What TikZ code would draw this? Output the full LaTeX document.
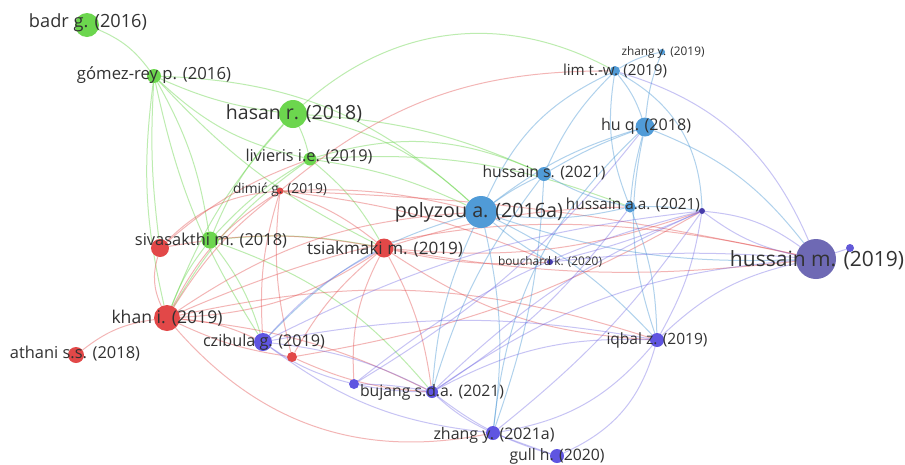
\documentclass[tikz,border=0pt]{standalone}
\usepackage{fontspec}
\setmainfont{Open Sans}
\usepackage{graphicx}
\pgfdeclarelayer{bg}
\pgfsetlayers{bg,main}
\definecolor{cg}{RGB}{108,214,78}
\definecolor{cr}{RGB}{226,72,72}
\definecolor{cb}{RGB}{80,155,215}
\definecolor{cp}{RGB}{95,85,225}
\definecolor{cs}{RGB}{110,105,180}
\definecolor{cd}{RGB}{70,60,170}
\definecolor{lc}{RGB}{50,50,50}
\newcommand\lbltxt[2]{\resizebox{#1pt}{!}{#2}}
\begin{document}
\begin{tikzpicture}[x=1pt,y=-1pt,
  vn/.style={circle,inner sep=0pt,minimum size=#1},
  lab/.style={inner sep=0pt,text=lc},
  egr/.style={draw=cg,draw opacity=.45,line width=1pt},
  ered/.style={draw=cr,draw opacity=.4,line width=1pt},
  eblu/.style={draw=cb,draw opacity=.45,line width=1pt},
  epur/.style={draw=cp,draw opacity=.35,line width=1pt}]
\useasboundingbox (0,0) rectangle (905,464);
% nodes
\node[vn=24pt,fill=cg] (badr) at (87,25) {};
\node[vn=14pt,fill=cg] (gomez) at (154,76) {};
\node[vn=28pt,fill=cg] (hasan) at (293,114) {};
\node[vn=13pt,fill=cg] (livieris) at (310,159) {};
\node[vn=7pt,fill=cr] (dimic) at (280,191) {};
\node[vn=18pt,fill=cr] (sivared) at (160,248) {};
\node[vn=17pt,fill=cg] (sivagr) at (210,240) {};
\node[vn=19pt,fill=cr] (tsiak) at (384,248) {};
\node[vn=26pt,fill=cr] (khan) at (167,318) {};
\node[vn=16pt,fill=cr] (athani) at (76,355) {};
\node[vn=18pt,fill=cp] (czibula) at (263,342) {};
\node[vn=10pt,fill=cr] (redsm) at (292,357) {};
\node[vn=10pt,fill=cp] (pursm) at (354,384) {};
\node[vn=12pt,fill=cp] (bujang) at (432,392) {};
\node[vn=14pt,fill=cp] (zhangb) at (493,433) {};
\node[vn=14pt,fill=cp] (gull) at (557,456) {};
\node[vn=14pt,fill=cp] (iqbal) at (657,340) {};
\node[vn=40pt,fill=cs] (hussm) at (816,259) {};
\node[vn=8pt,fill=cp!80!cs] (hussmb) at (850,248) {};
\node[vn=6pt,fill=cd] (hussc) at (702,211) {};
\node[vn=11pt,fill=cb] (hussaa) at (630,207) {};
\node[vn=14pt,fill=cb] (husss) at (544,174) {};
\node[vn=32pt,fill=cb] (polyzou) at (481,212) {};
\node[vn=19pt,fill=cb] (huq) at (645,127) {};
\node[vn=10pt,fill=cb] (lim) at (615,71) {};
\node[vn=6pt,fill=cb] (zhanga) at (662,52) {};
\node[vn=6pt,fill=cd] (bouch) at (550,262) {};
% labels
\node[lab] (badrL) at (88,23) {\lbltxt{118}{badr g. (2016)}};
\node[lab] (gomezL) at (154,75) {\lbltxt{154}{gómez-rey p. (2016)}};
\node[lab] (hasanL) at (294,114) {\lbltxt{136}{hasan r. (2018)}};
\node[lab] (livierisL) at (309,157) {\lbltxt{127}{livieris i.e. (2019)}};
\node[lab] (dimicL) at (280,190) {\lbltxt{94}{dimić g. (2019)}};
\node[lab] (sivaL) at (211,241) {\lbltxt{152}{sivasakthi m. (2018)}};
\node[lab] (tsiakL) at (385,249) {\lbltxt{156}{tsiakmaki m. (2019)}};
\node[lab] (khanL) at (167,318) {\lbltxt{111}{khan i. (2019)}};
\node[lab] (athaniL) at (75,354) {\lbltxt{130}{athani s.s. (2018)}};
\node[lab] (czibulaL) at (264,342) {\lbltxt{122}{czibula g. (2019)}};
\node[lab] (bujangL) at (432,392) {\lbltxt{144}{bujang s.d.a. (2021)}};
\node[lab] (zhangbL) at (494,435) {\lbltxt{121}{zhang y. (2021a)}};
\node[lab] (gullL) at (557,456) {\lbltxt{95}{gull h. (2020)}};
\node[lab] (iqbalL) at (657,340) {\lbltxt{101}{iqbal z. (2019)}};
\node[lab] (hussmL) at (817,260) {\lbltxt{174}{hussain m. (2019)}};
\node[lab] (hussaaL) at (633,205) {\lbltxt{134}{hussain a.a. (2021)}};
\node[lab] (husssL) at (544,173) {\lbltxt{123}{hussain s. (2021)}};
\node[lab] (polyzouL) at (479,212) {\lbltxt{168}{polyzou a. (2016a)}};
\node[lab] (huqL) at (646,126) {\lbltxt{90}{hu q. (2018)}};
\node[lab] (limL) at (615,71) {\lbltxt{104}{lim t.-w. (2019)}};
\node[lab] (zhangaL) at (663,52) {\lbltxt{83}{zhang y. (2019)}};
\node[lab] (bouchL) at (550,262) {\lbltxt{104}{bouchard k. (2020)}};
\begin{pgfonlayer}{bg}
\fill[white] (0,0) rectangle (905,464);
% green
\draw[egr] (badr) to[bend left=15] (gomez);
\draw[egr] (gomez) to[bend right=5] (sivared);
\draw[egr] (gomez) to[bend left=10] (sivagr);
\draw[egr] (gomez) to[bend right=10] (khan);
\draw[egr] (gomez) to[bend right=8] (hasan);
\draw[egr] (gomez) to[bend right=15] (livieris);
\draw[egr] (gomez) to[bend right=10] (tsiak);
\draw[egr] (gomez) to[bend left=20] (polyzou);
\draw[egr] (gomez) to[bend right=10] (czibula);
\draw[egr] (hasan) to[bend left=5] (livieris);
\draw[egr] (hasan) to[bend right=10] (sivagr);
\draw[egr] (hasan) to[bend left=15] (polyzou);
\draw[egr] (hasan) to[bend left=35] (lim);
\draw[egr] (hasan) to[bend left=10] (husss);
\draw[egr] (hasan) to[bend right=10] (khan);
\draw[egr] (livieris) to[bend left=20] (husss);
\draw[egr] (livieris) to[bend left=8] (polyzou);
\draw[egr] (livieris) to[bend left=12] (hussaa);
\draw[egr] (livieris) to[bend right=8] (sivagr);
\draw[egr] (livieris) to[bend right=12] (khan);
\draw[egr] (livieris) to[bend left=10] (tsiak);
\draw[egr] (sivagr) to[bend left=10] (czibula);
\draw[egr] (sivagr) to[bend right=8] (khan);
\draw[egr] (sivagr) to[bend left=8] (tsiak);
\draw[egr] (sivagr) to[bend left=15] (bujang);
% red
\draw[ered] (dimic) to[bend left=10] (tsiak);
\draw[ered] (dimic) to[bend right=15] (khan);
\draw[ered] (dimic) to[bend right=20] (sivared);
\draw[ered] (dimic) to[bend left=8] (polyzou);
\draw[ered] (dimic) to[bend left=20] (lim);
\draw[ered] (dimic) to[bend left=8] (bouch);
\draw[ered] (dimic) to[bend left=5] (hussm);
\draw[ered] (dimic) to[bend right=10] (czibula);
\draw[ered] (sivared) to[bend right=20] (khan);
\draw[ered] (sivared) to[bend left=10] (tsiak);
\draw[ered] (sivared) to[bend left=10] (livieris);
\draw[ered] (tsiak) to[bend left=15] (khan);
\draw[ered] (tsiak) to[bend right=10] (redsm);
\draw[ered] (tsiak) to[bend right=15] (pursm);
\draw[ered] (tsiak) to[bend left=10] (bujang);
\draw[ered] (tsiak) to[bend right=8] (bouch);
\draw[ered] (tsiak) to[bend right=8] (hussm);
\draw[ered] (tsiak) to[bend right=12] (hussc);
\draw[ered] (tsiak) to[bend right=15] (iqbal);
\draw[ered] (tsiak) to[bend left=8] (hussaa);
\draw[ered] (khan) to[bend right=15] (athani);
\draw[ered] (khan) to[bend left=10] (czibula);
\draw[ered] (khan) to[bend right=30] (zhangb);
\draw[ered] (khan) to[bend right=8] (redsm);
\draw[ered] (khan) to[bend left=15] (polyzou);
\draw[ered] (khan) to[bend left=10] (bujang);
\draw[ered] (khan) to[bend left=15] (iqbal);
\draw[ered] (khan) to[bend left=18] (hussm);
\draw[ered] (khan) to[bend left=10] (dimic);
\draw[ered] (redsm) to[bend right=10] (bujang);
\draw[ered] (redsm) to[bend left=10] (dimic);
\draw[ered] (redsm) to[bend right=10] (hussc);
% blue
\draw[eblu] (polyzou) to[bend left=5] (husss);
\draw[eblu] (polyzou) to[bend right=10] (hussaa);
\draw[eblu] (polyzou) to[bend left=10] (huq);
\draw[eblu] (polyzou) to[bend left=20] (lim);
\draw[eblu] (polyzou) to[bend right=10] (bujang);
\draw[eblu] (polyzou) to[bend left=10] (zhangb);
\draw[eblu] (polyzou) to[bend right=15] (czibula);
\draw[eblu] (polyzou) to[bend right=5] (bouch);
\draw[eblu] (polyzou) to[bend right=10] (hussm);
\draw[eblu] (polyzou) to[bend left=10] (iqbal);
\draw[eblu] (husss) to[bend left=5] (huq);
\draw[eblu] (husss) to[bend right=8] (hussaa);
\draw[eblu] (husss) to[bend left=10] (lim);
\draw[eblu] (husss) to[bend right=10] (bujang);
\draw[eblu] (husss) to[bend left=8] (zhangb);
\draw[eblu] (hussaa) to[bend left=5] (huq);
\draw[eblu] (hussaa) to[bend left=15] (lim);
\draw[eblu] (hussaa) to[bend left=5] (hussc);
\draw[eblu] (hussaa) to[bend left=10] (iqbal);
\draw[eblu] (huq) to[bend right=10] (lim);
\draw[eblu] (huq) to[bend left=8] (zhanga);
\draw[eblu] (huq) to[bend right=15] (iqbal);
\draw[eblu] (huq) to[bend right=20] (zhangb);
\draw[eblu] (huq) to[bend left=15] (hussm);
\draw[eblu] (lim) to[bend left=10] (zhanga);
\draw[eblu] (lim) to[bend left=30] (hussc);
% purple
\draw[epur] (hussc) to[bend left=15] (hussm);
\draw[epur] (hussc) to[bend right=12] (hussm);
\draw[epur] (hussc) to[bend right=10] (bujang);
\draw[epur] (hussc) to[bend left=8] (zhangb);
\draw[epur] (hussc) to[bend right=10] (czibula);
\draw[epur] (hussc) to[bend right=12] (pursm);
\draw[epur] (hussc) to[bend left=10] (iqbal);
\draw[epur] (hussm) to (hussmb);
\draw[epur] (hussm) to[bend right=15] (iqbal);
\draw[epur] (hussm) to[bend right=5] (bouch);
\draw[epur] (hussm) to[bend right=15] (bujang);
\draw[epur] (hussm) to[bend right=25] (lim);
\draw[epur] (iqbal) to[bend right=15] (bujang);
\draw[epur] (iqbal) to[bend left=20] (zhangb);
\draw[epur] (iqbal) to[bend left=25] (gull);
\draw[epur] (iqbal) to[bend right=10] (czibula);
\draw[epur] (bujang) to[bend right=5] (pursm);
\draw[epur] (bujang) to[bend left=5] (pursm);
\draw[epur] (bujang) to[bend right=8] (zhangb);
\draw[epur] (bujang) to[bend right=10] (gull);
\draw[epur] (bujang) to[bend right=10] (czibula);
\draw[epur] (bujang) to[bend right=10] (hussaa);
\draw[epur] (zhangb) to (gull);
\draw[epur] (zhangb) to[bend left=15] (czibula);
\draw[epur] (czibula) to[bend right=10] (pursm);
\draw[epur] (czibula) to[bend left=10] (tsiak);
\draw[epur] (bouch) to[bend right=5] (hussc);
\draw[epur] (pursm) to[bend right=10] (huq);
\end{pgfonlayer}
\end{tikzpicture}
\end{document}
